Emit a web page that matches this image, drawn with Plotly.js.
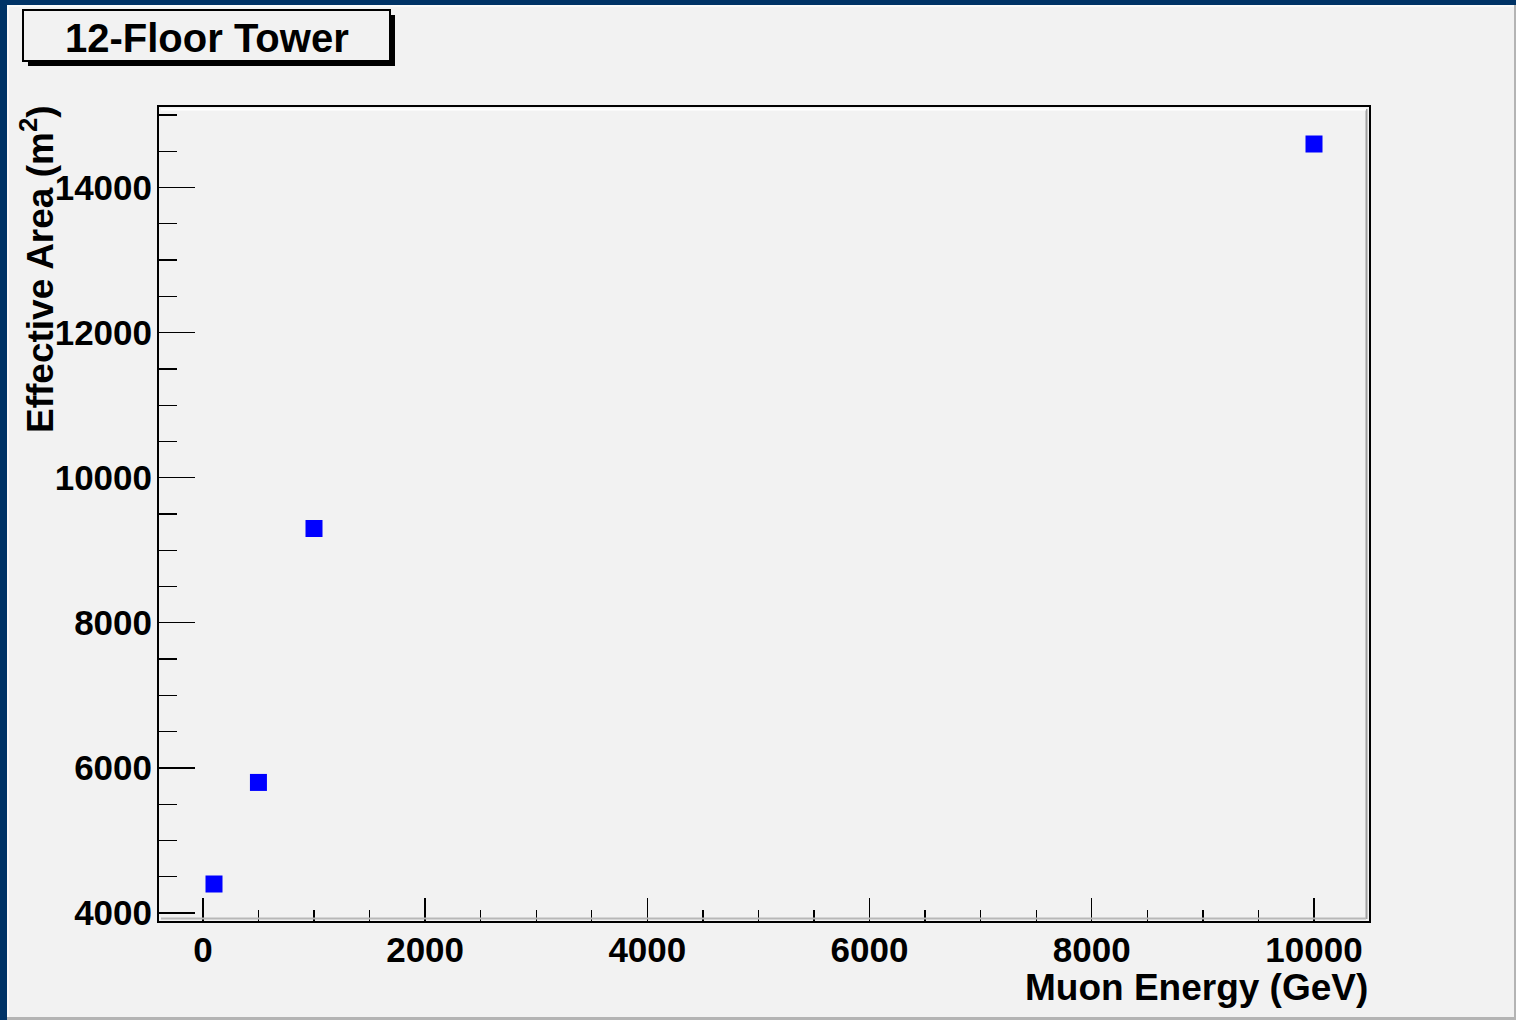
<!DOCTYPE html>
<html>
<head>
<meta charset="utf-8">
<script src="https://cdn.plot.ly/plotly-3.0.1.min.js"></script>
<style>
  html, body { margin: 0; padding: 0; background: #f2f2f2; }
  #chart { width: 1516px; height: 1020px; }
</style>
</head>
<body>
<div id="chart"></div>
<script>
// ---- data ----
const muonEnergy = [100, 500, 1000, 10000];          // GeV
const effectiveArea = [4400, 5800, 9300, 14600];     // m^2
const chartTitle = "12-Floor Tower";
const xTitle = "Muon Energy (GeV)";
const yTitle = "Effective Area (m<sup>2</sup>)";

// ---- layout helpers (pixel -> paper) ----
const W = 1516, H = 1020;
const L = 159, R = 1369, T = 107, B = 921;
const pw = R - L, ph = B - T;
const px = x => (x - L) / pw;
const py = y => (B - y) / ph;
const FONT = "Liberation Sans, Arial, Helvetica, sans-serif";

function rect(x0, y0, x1, y1, fill, line, lw) {
  return {type: "rect", xref: "paper", yref: "paper", layer: "above",
    x0: px(x0), x1: px(x1), y0: py(y1), y1: py(y0),
    fillcolor: fill, line: {color: line || fill, width: lw || 0}};
}
function seg(x0, y0, x1, y1, color, lw) {
  return {type: "line", xref: "paper", yref: "paper", layer: "above",
    x0: px(x0), x1: px(x1), y0: py(y0), y1: py(y1),
    line: {color: color, width: lw}};
}

const shapes = [
  // canvas frame
  rect(0, 0, W, 5, "#003366"),
  rect(0, 0, 7, H, "#003366"),
  rect(7, 5, W, 7, "#fafafa"),
  rect(7, 5, 9, H, "#fafafa"),
  rect(7, 1017, W, H, "#b4b4b4"),
  rect(1514, 5, W, H, "#b4b4b4"),
  // frame bevel
  seg(1366.5, 109, 1366.5, 919, "#a0a0a0", 2),
  seg(161, 918.5, 1366, 918.5, "#b8b8b8", 2),
  seg(161, 109.5, 1366, 109.5, "#ffffff", 2),
  // title box shadow and box
  rect(28, 15, 395, 66, "#000000"),
  rect(23, 10, 390, 61, "#f2f2f2", "#000000", 2)
];

const trace = {
  x: muonEnergy,
  y: effectiveArea,
  type: "scatter",
  mode: "markers",
  marker: {symbol: "square", size: 17, color: "#0000ff", line: {width: 0}},
  hoverinfo: "x+y"
};

const tickFont = {family: FONT, size: 35, weight: "bold", color: "#000000"};

const layout = {
  width: W, height: H,
  paper_bgcolor: "#f2f2f2",
  plot_bgcolor: "#f2f2f2",
  margin: {l: L, r: W - R, t: T, b: H - B, pad: 0},
  showlegend: false,
  font: {family: FONT, color: "#000000"},
  xaxis: {
    range: [-395, 10495],
    tick0: 0, dtick: 2000, tickformat: "d",
    ticks: "inside", ticklen: 23, tickwidth: 1.3, tickcolor: "#000000",
    minor: {dtick: 500, tick0: 0, ticks: "inside", ticklen: 11, tickwidth: 1.3, tickcolor: "#000000", showgrid: false},
    showgrid: false, zeroline: false,
    showline: true, linecolor: "#000000", linewidth: 2, mirror: true,
    tickfont: tickFont,
    ticklabelstandoff: -3
  },
  yaxis: {
    range: [3890, 15110],
    tick0: 0, dtick: 2000, tickformat: "d",
    ticks: "inside", ticklen: 36, tickwidth: 1.3, tickcolor: "#000000",
    minor: {dtick: 500, tick0: 0, ticks: "inside", ticklen: 18, tickwidth: 1.3, tickcolor: "#000000", showgrid: false},
    showgrid: false, zeroline: false,
    showline: true, linecolor: "#000000", linewidth: 2, mirror: true,
    tickfont: tickFont,
    ticklabelstandoff: -2
  },
  shapes: shapes,
  annotations: [
    {text: chartTitle, xref: "paper", yref: "paper", x: px(207), y: py(38),
     xanchor: "center", yanchor: "middle", showarrow: false,
     font: {family: FONT, size: 40, weight: "bold", color: "#000000"}},
    {text: xTitle, xref: "paper", yref: "paper", x: px(1370), y: py(987),
     xanchor: "right", yanchor: "middle", showarrow: false,
     font: {family: FONT, size: 37, weight: "bold", color: "#000000"}},
    {text: yTitle, xref: "paper", yref: "paper", x: px(37), y: py(103),
     xanchor: "center", yanchor: "top", textangle: -90, showarrow: false,
     font: {family: FONT, size: 37, weight: "bold", color: "#000000"}}
  ]
};

Plotly.newPlot("chart", [trace], layout, {displayModeBar: false, staticPlot: true});
</script>
</body>
</html>
